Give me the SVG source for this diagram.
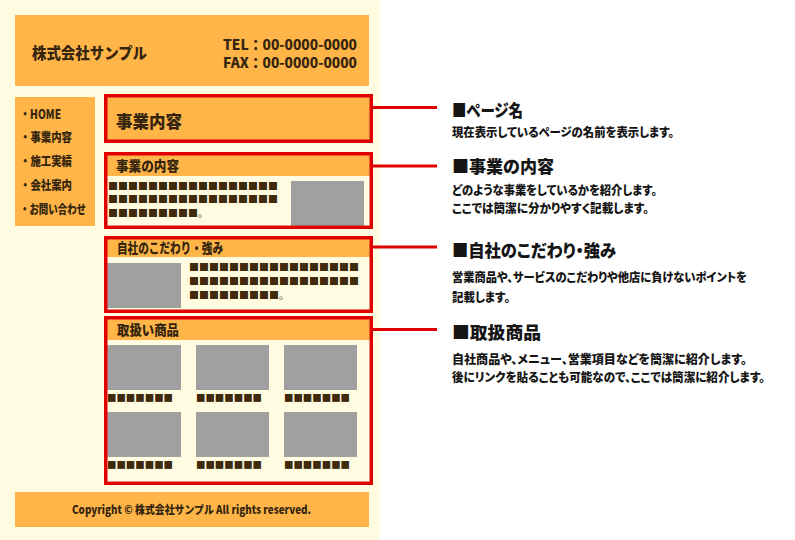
<svg xmlns="http://www.w3.org/2000/svg" width="795" height="540" viewBox="0 0 795 540">
<style>
.or{fill:#FFB548}
.cr{fill:#FFFCE1}
.img{fill:#A0A0A0}
.frame{fill:none;stroke:#E10000;stroke-width:3.5}
.t{font-family:"Noto Sans CJK JP","Noto Sans",sans-serif;font-weight:900;fill:#35250E}
.sq{font-family:"Noto Sans CJK JP",sans-serif;fill:#3F2A0C}
.h{font-family:"Noto Sans CJK JP","Noto Sans",sans-serif;font-weight:900;fill:#151515;font-feature-settings:"palt"}
.conn{stroke:#E10000;stroke-width:3;fill:none}
</style>
<rect x="0" y="0" width="795" height="540" fill="#FFFFFF"/>
<rect x="0" y="0" width="380" height="540" class="cr"/>

<g id="header">
<rect x="15" y="15" width="354" height="71" class="or"/>
<text class="t" x="32" y="59" font-size="15.5" textLength="115" lengthAdjust="spacingAndGlyphs">株式会社サンプル</text>
<text class="t" font-size="14"><tspan x="223" y="50" textLength="134" lengthAdjust="spacingAndGlyphs">TEL：00-0000-0000</tspan><tspan x="223" y="67.5" textLength="134" lengthAdjust="spacingAndGlyphs">FAX：00-0000-0000</tspan></text>
</g>

<g id="sidebar">
<rect x="15" y="97" width="80" height="129" class="or"/>
<text class="t" x="20" y="118.5" font-size="12.5" textLength="41" lengthAdjust="spacingAndGlyphs">・HOME</text>
<text class="t" x="20" y="142" font-size="12.5" textLength="52" lengthAdjust="spacingAndGlyphs">・事業内容</text>
<text class="t" x="20" y="166" font-size="12.5" textLength="52" lengthAdjust="spacingAndGlyphs">・施工実績</text>
<text class="t" x="20" y="190" font-size="12.5" textLength="52" lengthAdjust="spacingAndGlyphs">・会社案内</text>
<text class="t" x="20" y="214" font-size="12.5" textLength="66" lengthAdjust="spacingAndGlyphs">・お問い合わせ</text>
</g>

<g id="page-name">
<rect x="105.75" y="95.75" width="265.5" height="45.5" class="or"/>
<text class="t" x="116" y="128" font-size="17.5" textLength="66" lengthAdjust="spacingAndGlyphs">事業内容</text>
<rect x="105.75" y="95.75" width="265.5" height="45.5" class="frame"/>
</g>

<g id="business">
<rect x="105.75" y="153.75" width="265.5" height="73.5" class="cr"/>
<rect x="105.75" y="153.75" width="265.5" height="22.25" class="or"/>
<text class="t" x="116" y="171" font-size="13.5" textLength="63" lengthAdjust="spacingAndGlyphs">事業の内容</text>
<text class="sq" x="108" y="189.5" font-size="10">■■■■■■■■■■■■■■■■■</text>
<text class="sq" x="108" y="203" font-size="10">■■■■■■■■■■■■■■■■■</text>
<text class="sq" x="108" y="217" font-size="10">■■■■■■■■■。</text>
<rect x="291" y="181" width="73" height="45" class="img"/>
<rect x="105.75" y="153.75" width="265.5" height="73.5" class="frame"/>
</g>

<g id="strength">
<rect x="105.75" y="237.75" width="265.5" height="73.5" class="cr"/>
<rect x="105.75" y="237.75" width="265.5" height="19.25" class="or"/>
<text class="t" x="117" y="252.5" font-size="13.5" textLength="106" lengthAdjust="spacingAndGlyphs">自社のこだわり・強み</text>
<rect x="107" y="263" width="74" height="45" class="img"/>
<text class="sq" x="189" y="271" font-size="10">■■■■■■■■■■■■■■■■■</text>
<text class="sq" x="189" y="285" font-size="10">■■■■■■■■■■■■■■■■■</text>
<text class="sq" x="189" y="299" font-size="10">■■■■■■■■■。</text>
<rect x="105.75" y="237.75" width="265.5" height="73.5" class="frame"/>
</g>

<g id="products">
<rect x="105.75" y="317.75" width="265.5" height="165.5" class="cr"/>
<rect x="105.75" y="317.75" width="265.5" height="22.25" class="or"/>
<text class="t" x="117" y="334.5" font-size="13.5" textLength="62" lengthAdjust="spacingAndGlyphs">取扱い商品</text>
<rect x="107" y="345" width="74" height="45" class="img"/>
<rect x="196" y="345" width="73" height="45" class="img"/>
<rect x="284" y="345" width="73" height="45" class="img"/>
<rect x="107" y="412" width="74" height="45" class="img"/>
<rect x="196" y="412" width="73" height="45" class="img"/>
<rect x="284" y="412" width="73" height="45" class="img"/>
<text class="sq" x="107" y="401.5" font-size="9.8" textLength="66" lengthAdjust="spacingAndGlyphs">■■■■■■■</text>
<text class="sq" x="196" y="401.5" font-size="9.8" textLength="66" lengthAdjust="spacingAndGlyphs">■■■■■■■</text>
<text class="sq" x="284" y="401.5" font-size="9.8" textLength="66" lengthAdjust="spacingAndGlyphs">■■■■■■■</text>
<text class="sq" x="107" y="468.5" font-size="9.8" textLength="66" lengthAdjust="spacingAndGlyphs">■■■■■■■</text>
<text class="sq" x="196" y="468.5" font-size="9.8" textLength="66" lengthAdjust="spacingAndGlyphs">■■■■■■■</text>
<text class="sq" x="284" y="468.5" font-size="9.8" textLength="66" lengthAdjust="spacingAndGlyphs">■■■■■■■</text>
<rect x="105.75" y="317.75" width="265.5" height="165.5" class="frame"/>
</g>

<g id="footer">
<rect x="15" y="492" width="354" height="35" class="or"/>
<text class="t" x="72" y="514" font-size="11.5" textLength="239" lengthAdjust="spacingAndGlyphs">Copyright © 株式会社サンプル All rights reserved.</text>
</g>

<g id="connectors">
<line x1="373" y1="107.5" x2="437" y2="107.5" class="conn"/>
<line x1="373" y1="166" x2="437" y2="166" class="conn"/>
<line x1="373" y1="247" x2="437" y2="247" class="conn"/>
<line x1="373" y1="329.5" x2="437" y2="329.5" class="conn"/>
</g>

<g id="note-page-name">
<text class="h" x="452" y="116.5" font-size="17.5" textLength="71" lengthAdjust="spacingAndGlyphs">■ページ名</text>
<text class="h" x="452" y="136.5" font-size="12" textLength="222" lengthAdjust="spacingAndGlyphs">現在表示しているページの名前を表示します。</text>
</g>
<g id="note-business">
<text class="h" x="452" y="173" font-size="17.5" textLength="102" lengthAdjust="spacingAndGlyphs">■事業の内容</text>
<text class="h" x="452" y="194.5" font-size="12" textLength="205" lengthAdjust="spacingAndGlyphs">どのような事業をしているかを紹介します。</text>
<text class="h" x="452" y="213" font-size="12" textLength="197" lengthAdjust="spacingAndGlyphs">ここでは簡潔に分かりやすく記載します。</text>
</g>
<g id="note-strength">
<text class="h" x="452" y="257" font-size="17.5" textLength="164" lengthAdjust="spacingAndGlyphs">■自社のこだわり・強み</text>
<text class="h" x="452" y="282" font-size="12" textLength="295" lengthAdjust="spacingAndGlyphs">営業商品や、サービスのこだわりや他店に負けないポイントを</text>
<text class="h" x="452" y="301.5" font-size="12" textLength="58" lengthAdjust="spacingAndGlyphs">記載します。</text>
</g>
<g id="note-products">
<text class="h" x="452" y="339" font-size="17.5" textLength="89" lengthAdjust="spacingAndGlyphs">■取扱商品</text>
<text class="h" x="452" y="363.5" font-size="12" textLength="295" lengthAdjust="spacingAndGlyphs">自社商品や、メニュー、営業項目などを簡潔に紹介します。</text>
<text class="h" x="452" y="382" font-size="12" textLength="313" lengthAdjust="spacingAndGlyphs">後にリンクを貼ることも可能なので、ここでは簡潔に紹介します。</text>
</g>
</svg>
